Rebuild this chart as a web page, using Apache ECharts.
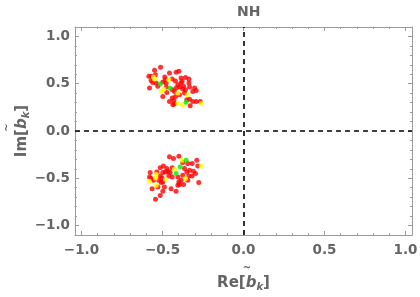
<!DOCTYPE html>
<html><head><meta charset="utf-8">
<script src="https://cdn.jsdelivr.net/npm/echarts@6/dist/echarts.min.js"></script>
<style>html,body{margin:0;padding:0;background:#fff}#c{width:420px;height:297px}</style>
</head><body><div id="c"></div>
<script>
const chartTitle = 'NH';
const xRange = [-1.04, 1.04];
const yRange = [-1.1, 1.1];
const majorTicks = [-1, -0.5, 0, 0.5, 1];
const minorTicks = [-1, -0.9, -0.8, -0.7, -0.6, -0.5, -0.4, -0.3, -0.2, -0.1, 0, 0.1, 0.2, 0.3, 0.4, 0.5, 0.6, 0.7, 0.8, 0.9, 1];

const redPts = [
  [-0.512, 0.674], [-0.549, 0.642], [-0.584, 0.578], [-0.568, 0.578], [-0.570, 0.535],
  [-0.560, 0.514], [-0.539, 0.507], [-0.498, 0.518], [-0.481, 0.543], [-0.486, 0.571],
  [-0.457, 0.613], [-0.416, 0.621], [-0.399, 0.631], [-0.440, 0.550], [-0.420, 0.528],
  [-0.385, 0.560], [-0.358, 0.567], [-0.337, 0.550], [-0.580, 0.454], [-0.529, 0.472],
  [-0.477, 0.465], [-0.440, 0.436], [-0.426, 0.418], [-0.473, 0.408], [-0.498, 0.365],
  [-0.379, 0.525], [-0.370, 0.472], [-0.395, 0.465], [-0.416, 0.454], [-0.337, 0.507],
  [-0.333, 0.465], [-0.302, 0.454], [-0.292, 0.429], [-0.358, 0.436], [-0.375, 0.443],
  [-0.395, 0.383], [-0.420, 0.365], [-0.440, 0.348], [-0.457, 0.312], [-0.430, 0.323],
  [-0.426, 0.287], [-0.350, 0.330], [-0.333, 0.337], [-0.313, 0.312], [-0.292, 0.312],
  [-0.267, 0.312], [-0.329, 0.266], [-0.436, 0.277], [-0.544, 0.596], [-0.477, 0.507],
  [-0.385, 0.507], [-0.405, 0.489], [-0.364, 0.401], [-0.313, 0.418],
  [-0.457, -0.273], [-0.432, -0.291], [-0.399, -0.266], [-0.375, -0.333], [-0.344, -0.344],
  [-0.317, -0.344], [-0.288, -0.309], [-0.282, -0.369], [-0.494, -0.369], [-0.514, -0.390],
  [-0.473, -0.397], [-0.440, -0.390], [-0.467, -0.426], [-0.481, -0.433], [-0.453, -0.440],
  [-0.498, -0.440], [-0.535, -0.433], [-0.576, -0.440], [-0.580, -0.486], [-0.570, -0.503],
  [-0.556, -0.521], [-0.514, -0.475], [-0.502, -0.496], [-0.498, -0.539], [-0.508, -0.546],
  [-0.523, -0.521], [-0.461, -0.475], [-0.440, -0.486], [-0.405, -0.486], [-0.399, -0.539],
  [-0.385, -0.521], [-0.364, -0.397], [-0.350, -0.433], [-0.333, -0.415], [-0.309, -0.426],
  [-0.296, -0.450], [-0.337, -0.475], [-0.317, -0.475], [-0.375, -0.468], [-0.344, -0.521],
  [-0.529, -0.592], [-0.564, -0.610], [-0.488, -0.592], [-0.447, -0.610], [-0.405, -0.574],
  [-0.395, -0.567], [-0.370, -0.567], [-0.416, -0.638], [-0.498, -0.638], [-0.514, -0.681],
  [-0.543, -0.723], [-0.276, -0.546]
];
const yellowPts = [
  [-0.556, 0.571], [-0.549, 0.550], [-0.461, 0.543], [-0.508, 0.418], [-0.492, 0.443],
  [-0.405, 0.401], [-0.405, 0.294], [-0.344, 0.383], [-0.375, 0.277], [-0.261, 0.287],
  [-0.379, -0.309], [-0.261, -0.369], [-0.426, -0.404], [-0.539, -0.461], [-0.580, -0.532],
  [-0.543, -0.496], [-0.481, -0.511], [-0.358, -0.503], [-0.539, -0.574]
];
const greenPts = [
  [-0.514, 0.496], [-0.453, 0.454], [-0.354, 0.305],
  [-0.354, -0.309], [-0.391, -0.379], [-0.416, -0.450]
];

const frameColor = '#9a9a9a';
const textColor = '#656565';
const FONT = 'DejaVu Sans, sans-serif';
const fmt = v => (v < 0 ? '\u2212' : '') + Math.abs(v).toFixed(1);

function axisSet(dir, range, pos, major, nameOpt) {
  const common = {
    type: 'value', min: range[0], max: range[1], position: pos,
    splitLine: { show: false }
  };
  const a = Object.assign({}, common, {
    axisLine: { show: true, onZero: false, lineStyle: { color: frameColor, width: 1 } },
    axisTick: { show: true, inside: true, length: 4, customValues: majorTicks, lineStyle: { color: frameColor } },
    axisLabel: major ? { show: true, customValues: majorTicks, formatter: fmt, color: textColor,
      fontWeight: 'bold', fontSize: 13.5, fontFamily: FONT, margin: dir === 'x' ? 8 : 5 } : { show: false }
  }, nameOpt || {});
  const b = Object.assign({}, common, {
    axisLine: { show: false, onZero: false },
    axisTick: { show: true, inside: true, length: 2, customValues: minorTicks, lineStyle: { color: frameColor } },
    axisLabel: { show: false }
  });
  return [a, b];
}

function nameRich() {
  return {
    t: { fontSize: 10, color: textColor, fontWeight: 'bold', fontFamily: FONT, align: 'center', lineHeight: 12, padding: [0, 0, 0, 7] },
    a: { fontSize: 15, color: textColor, fontWeight: 'bold', fontFamily: FONT, lineHeight: 18 },
    b: { fontSize: 15, color: textColor, fontWeight: 'bold', fontStyle: 'italic', fontFamily: FONT, lineHeight: 18 },
    s: { fontSize: 10, color: textColor, fontWeight: 'bold', fontStyle: 'italic', fontFamily: FONT, padding: [9, 0, 0, 0], lineHeight: 18 }
  };
}
const xName = {
  name: '{t|~}\n{a|Re[}{b|b}{s|k}{a|]}',
  nameLocation: 'middle', nameGap: 27,
  nameTextStyle: { rich: nameRich() }
};
const yName = {
  name: '{t|~}\n{a|Im[}{b|b}{s|k}{a|]}',
  nameLocation: 'middle', nameGap: 44, nameRotate: 90, nameMoveOverlap: false,
  nameTextStyle: { rich: nameRich() }
};

const xAxes = axisSet('x', xRange, 'bottom', true, xName).concat(axisSet('x', xRange, 'top', false));
const yAxes = axisSet('y', yRange, 'left', true, yName).concat(axisSet('y', yRange, 'right', false));

const chart = echarts.init(document.getElementById('c'), null, { renderer: 'canvas' });
const scatterBase = { type: 'scatter', symbolSize: 5, xAxisIndex: 0, yAxisIndex: 0, silent: true };
chart.setOption({
  animation: false,
  backgroundColor: '#ffffff',
  title: {
    text: chartTitle, left: 232, top: 0,
    textStyle: { fontSize: 14, fontWeight: 'bold', color: textColor, fontFamily: FONT }
  },
  grid: { left: 75, right: 8, top: 27, bottom: 62, containLabel: false, outerBoundsMode: 'none' },
  xAxis: xAxes,
  yAxis: yAxes,
  series: [
    Object.assign({}, scatterBase, {
      data: redPts, itemStyle: { color: '#ff0000' },
      markLine: {
        silent: true, symbol: 'none', label: { show: false },
        lineStyle: { color: '#000', type: [5, 4], width: 1.6 },
        data: [{ xAxis: 0 }, { yAxis: 0 }]
      }
    }),
    Object.assign({}, scatterBase, { data: yellowPts, itemStyle: { color: '#ffff00' } }),
    Object.assign({}, scatterBase, { data: greenPts, itemStyle: { color: '#00ee00' } })
  ]
});
</script></body></html>
